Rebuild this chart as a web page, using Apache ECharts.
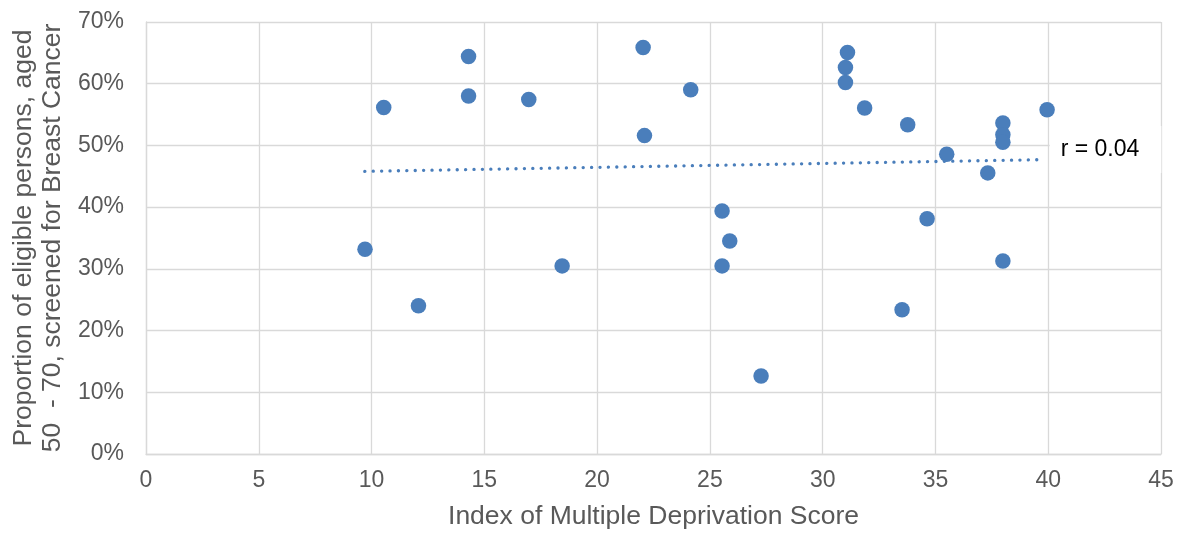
<!DOCTYPE html>
<html>
<head>
<meta charset="utf-8">
<script src="https://cdn.jsdelivr.net/npm/echarts@6/dist/echarts.min.js"></script>
<style>
html,body{margin:0;padding:0;background:#fff;}
#chart{width:1177px;height:535px;}
</style>
</head>
<body>
<div id="chart"></div>
<script>
// IMD score (x) and proportion screened (%) (y)
const imdScores = [14.3, 14.3, 10.54, 16.97, 22.04, 24.15, 22.1, 9.71, 18.45, 12.08,
  25.54, 25.88, 25.54, 31.1, 31.01, 31.01, 31.86, 33.77, 35.5, 37.99,
  37.99, 37.99, 39.95, 37.32, 34.63, 37.99, 33.52, 27.27];
const screenedPct = [64.4, 58.0, 56.16, 57.45, 65.86, 59.02, 51.59, 33.17, 30.48, 24.02,
  39.36, 34.52, 30.48, 65.05, 62.62, 60.2, 56.05, 53.36, 48.57, 53.63,
  51.75, 50.51, 55.79, 45.55, 38.12, 31.29, 23.37, 12.65];
// linear trendline endpoints
const trendX = [9.7, 39.8];
const trendY = [45.8, 47.7];
const trendLabel = 'r = 0.04';
const xTicks = {min: 0, max: 45, interval: 5};
const yTicks = {min: 0, max: 70, interval: 10};

const points = imdScores.map((x, i) => [x, screenedPct[i]]);
const trend = trendX.map((x, i) => [x, trendY[i]]);

const chart = echarts.init(document.getElementById('chart'), null, {renderer: 'canvas'});
const font = '"Liberation Sans", Arial, sans-serif';
const gridColor = '#d9d9d9';
const blue = '#4a7ebb';

chart.setOption({
  animation: false,
  backgroundColor: '#fff',
  grid: {left: 146, right: 16, top: 22, bottom: 78, containLabel: false},
  xAxis: {
    type: 'value',
    min: xTicks.min, max: xTicks.max, interval: xTicks.interval,
    name: 'Index of Multiple Deprivation Score',
    nameLocation: 'middle',
    nameGap: 49,
    nameTextStyle: {color: '#595959', fontSize: 26.5, fontFamily: font},
    axisLine: {show: true, lineStyle: {color: gridColor, width: 1.3}},
    axisTick: {show: false},
    axisLabel: {color: '#595959', fontSize: 23, fontFamily: font, margin: 15},
    splitLine: {show: true, lineStyle: {color: gridColor, width: 1.3}}
  },
  yAxis: {
    type: 'value',
    min: yTicks.min, max: yTicks.max, interval: yTicks.interval,
    name: 'Proportion of eligible persons, aged\n50  - 70, screened for Breast Cancer',
    nameLocation: 'middle',
    nameGap: 76,
    nameTextStyle: {color: '#595959', fontSize: 26.5, fontFamily: font, lineHeight: 29},
    axisLine: {show: true, lineStyle: {color: gridColor, width: 1.3}},
    axisTick: {show: false},
    axisLabel: {color: '#595959', fontSize: 23, fontFamily: font, margin: 22, formatter: '{value}%'},
    splitLine: {show: true, lineStyle: {color: gridColor, width: 1.3}}
  },
  series: [
    {
      type: 'scatter',
      data: points,
      symbol: 'circle',
      symbolSize: 15.5,
      itemStyle: {color: blue, opacity: 1},
      z: 2
    },
    {
      type: 'line',
      data: trend,
      showSymbol: false,
      symbol: 'none',
      lineStyle: {color: blue, width: 3.3, type: [0.1, 8.3], cap: 'round'},
      endLabel: {
        show: true,
        distance: 6,
        offset: [0, -10],
        formatter: trendLabel,
        color: '#000',
        fontSize: 23,
        fontFamily: font,
        backgroundColor: '#fff',
        padding: [12, 22, 12, 11]
      },
      silent: true,
      z: 3
    }
  ]
});
</script>
</body>
</html>
